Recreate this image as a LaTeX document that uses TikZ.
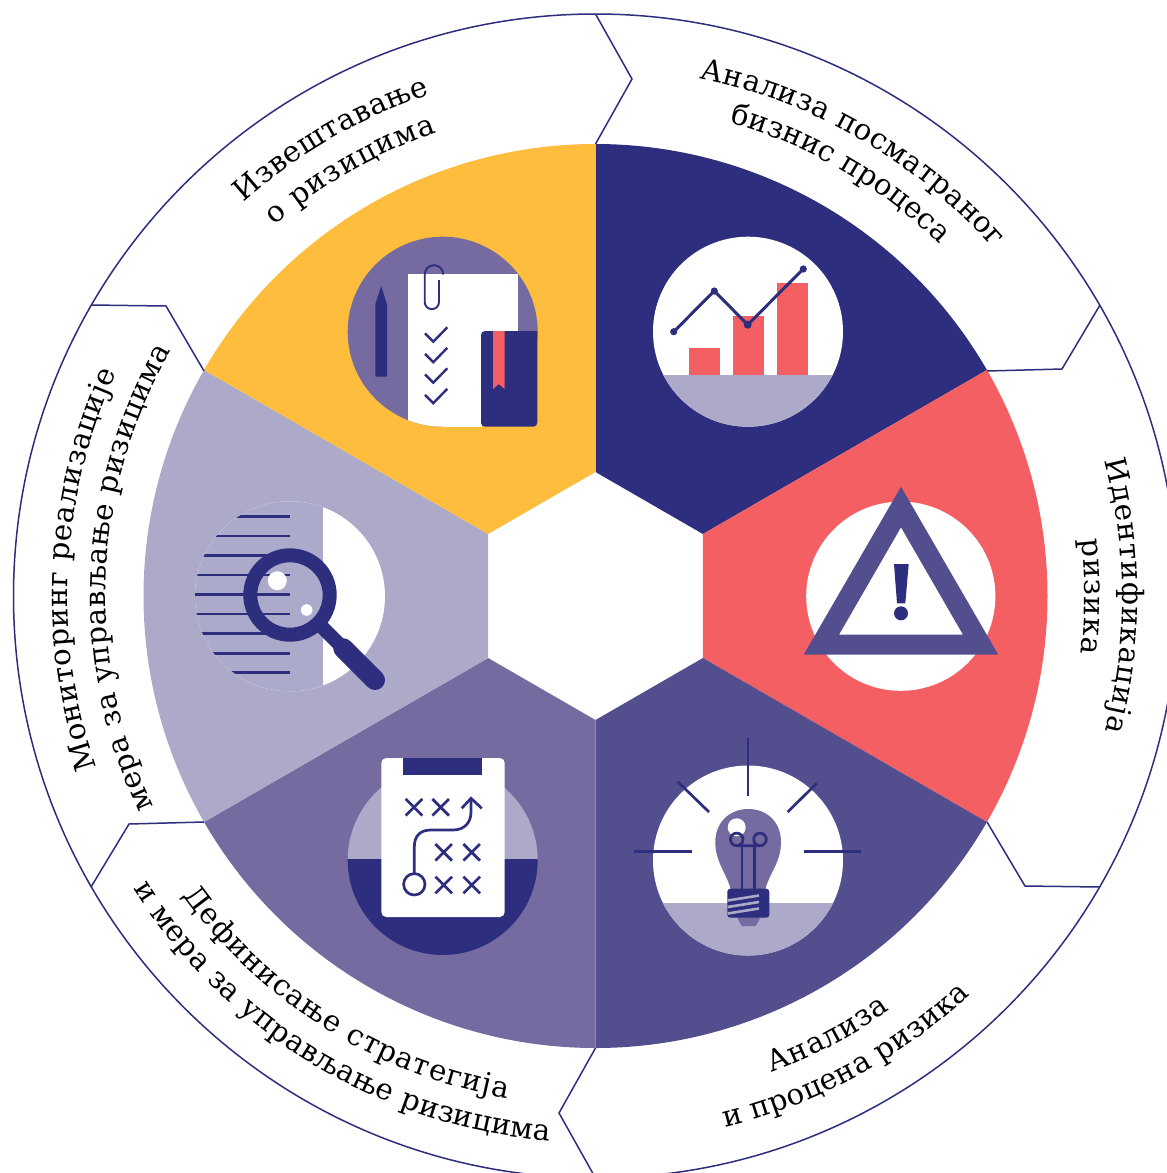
\documentclass[tikz,border=0pt]{standalone}
\usepackage{fontspec}
\setmainfont{DejaVu Serif}
\usetikzlibrary{decorations.text}
\definecolor{navy}{HTML}{2E2E7E}
\definecolor{coral}{HTML}{F45F63}
\definecolor{indigo}{HTML}{534E8E}
\definecolor{violet}{HTML}{756BA0}
\definecolor{lav}{HTML}{ADA9C9}
\definecolor{lavb}{HTML}{ABAACB}
\definecolor{amber}{HTML}{FEBD3C}
\newcommand\lblfont{\fontsize{29.2pt}{32pt}\selectfont}
\newcommand\wedgeseg[3]{\fill[#3] (#1:124pt) -- (#1:452pt) arc[start angle=#1,end angle=#2,radius=452pt] -- (#2:124pt) -- cycle;}
\newcommand\arclabel[4]{\path[decorate,decoration={text along path,text align={fit to path},text={|\lblfont|#4}}] (#1:#3pt) arc[start angle=#1,end angle=#2,radius=#3pt];}
\newcommand\crossmark[2]{\draw[thinink,line cap=butt] (#1-8.3,#2-8.3) -- (#1+8.3,#2+8.3) (#1-8.3,#2+8.3) -- (#1+8.3,#2-8.3);}
\newcommand\checkmark[1]{\draw[thinink] (425,333.3+#1) -- (433.3,341.7+#1) -- (447.3,327.3+#1);}
\tikzset{
  thinink/.style={draw=navy,line width=2.7pt},
  ring/.style={draw=navy,line width=1.5pt,line join=miter},
}
\begin{document}
\begin{tikzpicture}[x=1pt,y=-1pt]
\path[use as bounding box] (0,0) rectangle (1167,1173);
\clip (0,0) rectangle (1167,1173);
\fill[white] (0,0) rectangle (1167,1173);

% sectors
\begin{scope}[shift={(595.5,596)}]
\wedgeseg{30}{90}{navy}
\wedgeseg{-30}{30}{coral}
\wedgeseg{-90}{-30}{indigo}
\wedgeseg{-150}{-90}{violet}
\wedgeseg{150}{210}{lav}
\wedgeseg{90}{150}{amber}
\draw[ring] (0,0) circle[radius=582pt];
% labels
\arclabel{78.6}{41.2}{528}{Анализа посматраног}
\arclabel{74.2}{45.6}{492}{бизнис процеса}
\arclabel{14.9}{-14.9}{527}{Идентификација}
\arclabel{6.6}{-6.8}{489}{ризика}
\arclabel{-76.3}{-46.8}{547}{и процена ризика}
\arclabel{-69.7}{-54.6}{508}{Анализа}
\arclabel{212.3}{265.2}{547}{и мера за управљање ризицима}
\arclabel{215.9}{260}{510}{Дефинисање стратегија}
\arclabel{199}{155}{528}{Мониторинг реализације}
\arclabel{205.5}{150}{490}{мера за управљање ризицима}
\arclabel{131.8}{108.3}{528}{Извештавање}
\arclabel{130.9}{108.9}{490}{о ризицима}
\end{scope}

% chevrons
\draw[ring] (987,371) -- (1062,369) -- (1100,305);
\draw[ring] (987,822) -- (1025,886) -- (1100,887);
\draw[ring] (595.5,1048) -- (559,1113) -- (595.5,1178);
\draw[ring] (204,822) -- (129,824) -- (91,887);
\draw[ring] (204,371) -- (166,306) -- (91,305);
\draw[ring] (595.5,144) -- (632,79) -- (595.5,14);

% icon 1: chart
\fill[white] (748,331.7) circle[radius=95pt];
\begin{scope}
\clip (748,331.7) circle[radius=95pt];
\fill[lav] (640,374.7) rectangle (860,440);
\end{scope}
\fill[coral] (689,348) rectangle (720,374.7);
\fill[coral] (733,316) rectangle (764,374.7);
\fill[coral] (777,283) rectangle (808,374.7);
\draw[navy,line width=3pt] (673.7,331.7) -- (714.3,291) -- (747.7,324.7) -- (803.3,269);
\fill[navy] (673.7,331.7) circle[radius=3.6pt] (714.3,291) circle[radius=3.6pt] (747.7,324.7) circle[radius=4pt] (803.3,269) circle[radius=3.6pt];

% icon 2: report
\fill[violet] (442.7,331.7) circle[radius=95pt];
\begin{scope}
\clip (442.7,331.7) circle[radius=95pt];
\fill[white] (408,274.3) rectangle (517.7,430);
\end{scope}
\fill[white] (442.7,400) rectangle (482,426.7);
\fill[navy] (375.3,376.7) -- (375.3,304.3) -- (381.2,286) -- (387,304.3) -- (387,376.7) -- cycle;
\draw[navy,line width=1.9pt] (443.3,274.5) arc[start angle=0,end angle=180,radius=9.3pt] -- (424.7,302) arc[start angle=180,end angle=360,radius=7.15pt] -- (439,280);
\begin{scope}[line cap=butt]
\tikzset{thinink/.append style={line width=2.4pt}}
\checkmark{0}
\checkmark{20.5}
\checkmark{41}
\checkmark{61.5}
\end{scope}
\fill[navy,rounded corners=4pt] (537.3,331) -- (481,331) -- (481,426.7) -- (537.3,426.7) [sharp corners] -- cycle;
\fill[coral] (493,331) -- (504.7,331) -- (504.7,389) -- (498.8,384) -- (493,389) -- cycle;

% icon 3: magnifier
\fill[white] (290,596.3) circle[radius=95pt];
\begin{scope}
\clip (290,596.3) circle[radius=95pt];
\fill[lavb] (190,490) rectangle (322.7,700);
\foreach \yy in {516.3,536,555.3,575,594.7,614,633.7,653.3,672.7}
  \draw[navy,line width=2.8pt] (190,\yy) -- (290,\yy);
\end{scope}
\draw[navy,line width=14pt,line cap=butt] (322,627) -- (345,650);
\draw[navy,line width=20pt,line cap=round] (343.3,648.3) -- (375,680);
\draw[navy,line width=14pt] (290,595) circle[radius=39.7pt];
\fill[white] (277.3,580.7) circle[radius=9.5pt];
\fill[white] (306.7,610) circle[radius=5.8pt];

% icon 4: clipboard
\begin{scope}
\clip (442.7,860) circle[radius=95pt];
\fill[lav] (340,760) rectangle (545,859.3);
\fill[navy] (340,859.3) rectangle (545,960);
\end{scope}
\fill[white,rounded corners=5pt] (381.3,758) rectangle (504.7,917);
\fill[navy] (403,758) rectangle (482,775);
\crossmark{414}{807.3}
\crossmark{440.7}{807.3}
\crossmark{443.7}{852.3}
\crossmark{471.7}{852.3}
\crossmark{443.7}{885}
\crossmark{471.7}{885}
\draw[thinink] (414.3,884.3) circle[radius=10.7pt];
\draw[thinink] (414.3,873) -- (414.3,847) .. controls (414.3,836) and (420,830) .. (431,830) -- (453,830) .. controls (465,830) and (471,822) .. (471,812) -- (471,798.3);
\draw[thinink] (461.7,808.3) -- (471,798.3) -- (481.7,808.3);

% icon 5: bulb
\fill[white] (748,860.5) circle[radius=95pt];
\begin{scope}
\clip (748,860.5) circle[radius=95pt];
\fill[lav] (640,903.3) rectangle (860,960);
\end{scope}
\draw[thinink] (748,737.7) -- (748,795.7);
\draw[thinink] (634,851.7) -- (692.3,851.7);
\draw[thinink] (804.3,851.7) -- (861,851.7);
\draw[thinink] (677.7,781.7) -- (709,812);
\draw[thinink] (816.7,783.3) -- (787.7,812);
\fill[violet] (736,915) -- (741.7,926) -- (755.7,926) -- (761.7,915) -- cycle;
\fill[violet] (715.3,842) .. controls (715.3,822) and (730,809) .. (748.2,809) .. controls (767,809) and (781,822) .. (781,842) .. controls (781,862) and (770,872) .. (765,890) -- (731,890) .. controls (726,872) and (715.3,862) .. (715.3,842) -- cycle;
\fill[white] (736.7,827.3) circle[radius=9pt];
\draw[navy,line width=2.7pt] (736.7,845.7) arc[start angle=-90,end angle=270,radius=6.3pt] -- (760,845.7) arc[start angle=270,end angle=-90,radius=6.3pt];
\draw[navy,line width=2.7pt] (742,843) -- (742,889);
\draw[navy,line width=2.7pt] (754.3,843) -- (754.3,889);
\fill[navy,rounded corners=3pt] (727.3,888.7) rectangle (769.3,917.7);
\draw[lav,line width=2.6pt] (727.7,900.5) -- (759,895.5) (727.7,907) -- (759,902) (727.7,913.5) -- (759,908.5);

% icon 6: warning
\fill[white] (900.8,596.2) circle[radius=94.6pt];
\fill[indigo,even odd rule] (901,486.7) -- (803.7,654.7) -- (998.3,654.7) -- cycle (901,527.3) -- (839,634.7) -- (963,634.7) -- cycle;
\fill[navy] (894,564) -- (908.7,564) -- (905.3,603.3) -- (897,603.3) -- cycle;
\fill[navy] (901,613.3) circle[radius=7pt];
\end{tikzpicture}
\end{document}
